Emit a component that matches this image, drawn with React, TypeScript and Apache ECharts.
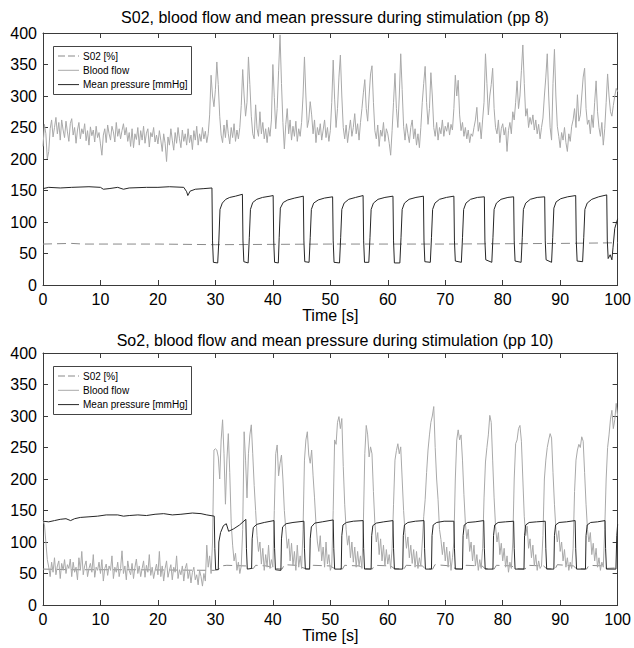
import React, { useEffect, useRef } from "react";
import * as echarts from "echarts";

const STEP = 0.25; // seconds between blood-flow samples

const TITLES = [
  "S02, blood flow and mean pressure during stimulation (pp 8)",
  "So2, blood flow and mean pressure during stimulation (pp 10)",
];
const SERIES_NAMES = ["S02 [%]", "Blood flow", "Mean pressure [mmHg]"];

// ---------- Panel 1 (pp 8) ----------
const TOP_FLOW = [
  220,255,240,200,212,248,262,235,250,266,240,258,230,262,246,234,260,243,228,256,
  264,238,250,225,246,258,232,248,240,256,229,245,222,251,237,246,227,252,234,242,
  224,206,238,248,226,254,240,230,252,243,227,258,236,248,232,245,256,238,250,228,
  242,220,248,218,240,231,250,222,245,230,252,225,241,248,219,242,235,250,227,238,
  224,245,230,212,240,225,196,235,222,248,230,214,242,225,250,232,218,246,228,240,
  222,248,226,238,215,245,230,252,222,240,228,250,232,244,226,240,270,333,300,283,
  310,354,318,268,238,226,254,234,262,240,224,250,234,256,228,246,232,250,285,342,
  300,268,290,362,318,268,240,232,286,248,236,275,240,258,232,248,226,250,236,262,
  350,298,248,280,340,397,320,258,216,255,280,240,262,230,252,236,260,228,248,236,
  258,300,362,300,250,262,291,270,240,262,226,250,238,256,230,246,262,234,250,228,
  245,290,357,295,250,280,330,365,300,250,232,254,226,245,262,236,250,272,240,256,
  230,258,280,305,326,280,260,300,335,348,290,245,232,254,220,246,236,258,228,248,
  240,225,206,245,290,336,280,250,300,367,310,252,230,256,240,226,250,262,232,248,
  222,240,218,250,290,320,347,290,255,280,337,300,250,236,258,230,250,240,262,236,
  252,244,258,238,255,246,280,333,300,325,270,245,258,236,250,232,246,226,240,236,
  250,262,282,244,258,232,262,290,367,320,270,300,318,344,280,250,240,262,226,248,
  256,238,250,212,245,258,240,275,262,290,324,280,300,340,381,320,268,280,250,266,
  255,270,246,262,240,255,232,250,265,300,330,367,300,250,230,320,374,300,252,236,
  218,242,230,250,226,212,240,228,252,262,280,250,302,260,270,300,330,344,280,255,
  262,240,270,250,290,324,275,250,236,258,222,248,290,335,300,275,268,285,300,312,
  307,
];

const TOP_PRESSURE: [number, number][] = [
  [0,153],[1,155],[3,154],[5,155],[8,156],[10,155],[10.5,152],[11.5,153],[13,155],[14,152],[15,154],[18,155],
  [20,155],[22,156],[24.5,155],[25,148],[25.2,142],[25.6,149],[26.5,152],[28,153],[29.4,154],
  [29.5,70],[29.65,36],[30.4,35],[30.6,70],[30.8,120],[31.2,130],[31.8,136],[32.5,139],[33.5,141],[34.7,144],
  [34.8,70],[34.95,37],[35.7,35],[35.9,75],[36.1,120],[36.5,131],[37.2,136],[38.2,139],[39.5,141],[40.05,142],
  [40.15,70],[40.3,36],[40.95,35],[41.1,75],[41.3,122],[41.8,131],[42.6,135],[43.8,138],[45.3,141],
  [45.4,70],[45.55,37],[46.3,36],[46.5,75],[46.7,120],[47.1,130],[47.9,135],[49,138],[50.4,140],
  [50.5,70],[50.65,36],[51.6,35],[51.8,75],[52,120],[52.4,130],[53.2,136],[54.4,139],[55.7,142],
  [55.8,70],[55.95,36],[56.7,36],[56.9,75],[57.1,120],[57.5,130],[58.3,136],[59.5,139],[60.9,141],
  [61.0,70],[61.15,35],[62.1,35],[62.3,75],[62.5,120],[62.9,130],[63.7,136],[64.9,139],[66.2,141],
  [66.3,70],[66.45,37],[67.4,36],[67.6,75],[67.8,120],[68.2,130],[69,136],[70.2,139],[71.5,141],
  [71.6,70],[71.75,38],[72.8,36],[73,75],[73.2,120],[73.6,130],[74.4,136],[75.6,139],[76.8,140],
  [76.9,70],[77.05,40],[78.1,36],[78.3,75],[78.5,120],[78.9,130],[79.7,136],[80.9,139],[81.9,140],
  [82.0,70],[82.15,38],[83.2,36],[83.4,75],[83.6,120],[84,130],[84.8,136],[86,139],[87.3,140],
  [87.4,70],[87.55,40],[88.5,36],[88.7,75],[88.9,122],[89.3,132],[90.1,137],[91.3,140],[92.7,142],
  [92.8,70],[92.95,38],[93.9,37],[94.1,75],[94.3,120],[94.7,130],[95.5,136],[96.7,140],[98.1,143],
  [98.2,70],[98.35,42],[98.7,48],[99.0,40],[99.2,60],[99.5,90],[100,105],
];

const TOP_SO2: [number, number][] = [
  [0,65],[5,66],[7,65],[20,65],[30,64],[50,65],[70,65],[90,66],[100,67],
];

// ---------- Panel 2 (pp 10) ----------
const BOTTOM_FLOW = [
  135,128,100,72,60,45,68,52,75,48,62,70,42,66,55,72,50,64,58,73,
  45,68,52,60,40,75,55,85,48,62,70,45,58,66,52,80,44,60,55,68,
  50,72,38,58,65,47,62,55,78,42,60,52,68,45,58,86,50,62,40,70,
  55,48,66,42,60,73,50,62,45,58,70,44,63,52,80,47,60,42,55,65,
  48,85,45,62,38,58,70,44,55,64,40,60,52,78,42,56,48,62,38,58,
  66,42,55,35,52,60,40,48,32,55,45,30,50,38,95,60,78,50,100,246,
  248,246,235,200,262,294,240,160,230,272,210,130,95,70,82,55,68,50,62,120,
  275,230,170,240,270,286,240,190,150,110,85,100,65,90,55,80,60,95,58,72,
  60,150,240,254,205,225,238,200,150,120,90,105,70,98,62,85,55,95,60,78,
  58,120,230,262,275,238,225,246,205,170,130,100,85,110,70,92,60,100,65,80,
  55,62,150,262,255,290,299,280,296,220,160,120,95,110,75,100,68,92,60,85,
  62,78,58,130,240,285,270,235,251,240,180,130,100,115,80,105,70,95,62,88,
  65,80,58,90,160,230,245,256,240,251,200,150,115,90,108,75,95,66,88,60,
  85,58,75,62,100,140,167,210,246,270,290,300,315,250,200,167,120,104,80,100,
  70,92,60,85,55,75,100,200,262,278,262,270,230,175,130,105,120,85,100,70,
  95,62,80,55,72,58,90,170,227,250,270,301,290,230,170,125,100,115,80,98,
  70,90,60,78,52,68,58,100,200,256,262,280,285,260,200,140,110,125,90,105,
  75,95,62,80,55,70,58,62,110,200,230,250,262,272,265,210,160,120,100,118,
  85,100,70,88,60,75,55,68,58,90,180,230,246,255,250,267,260,210,160,120,
  100,115,80,98,70,90,60,75,55,68,60,120,200,250,270,295,309,280,294,320,
  300,
];

const BOTTOM_PRESSURE: [number, number][] = [
  [0,133],[1,132],[2,134],[3,136],[4,137],[4.8,134],[5.5,137],[6.5,139],[8,140],[9.5,141],[11,143],[13,143],
  [14,141],[15,142],[16.5,143],[18,142],[19.5,144],[21,145],[22.5,143],[24,144],[26,146],[27.5,145],[28.5,143],[29.8,141],
  [29.9,90],[30.05,56],[30.5,56],[30.6,100],[30.9,115],[31.4,126],[31.9,129],[32.3,117],[33.2,121],[34.2,127],[35.3,136],
  [35.4,90],[35.55,57],[36.3,58],[36.4,105],[36.6,123],[37.2,128],[38.5,131],[40.2,134],
  [40.3,90],[40.45,56],[41.4,55],[41.5,105],[41.7,124],[42.3,129],[43.5,131],[45.4,133],
  [45.5,90],[45.65,57],[46.4,57],[46.5,105],[46.7,124],[47.3,130],[48.6,132],[50.5,135],
  [50.6,90],[50.75,57],[51.9,57],[52.0,110],[52.2,127],[52.8,131],[54,133],[55.7,134],
  [55.8,90],[55.95,57],[57.1,57],[57.2,110],[57.4,126],[58,130],[59.3,132],[60.9,134],
  [61.0,90],[61.15,57],[62.6,57],[62.7,110],[62.9,127],[63.5,131],[64.8,133],[66.3,134],
  [66.4,90],[66.55,57],[67.6,57],[67.7,110],[67.9,127],[68.5,131],[69.8,133],[71.5,133],
  [71.6,90],[71.75,57],[73.0,57],[73.1,110],[73.3,127],[73.9,131],[75.2,132],[76.7,134],
  [76.8,90],[76.95,57],[78.3,57],[78.4,110],[78.6,127],[79.2,131],[80.5,132],[81.9,133],
  [82.0,90],[82.15,57],[83.7,57],[83.8,110],[84,127],[84.6,131],[85.9,132],[87.4,133],
  [87.5,90],[87.65,57],[88.9,57],[89.0,110],[89.2,127],[89.8,131],[91.1,132],[92.6,134],
  [92.7,90],[92.85,57],[94.4,57],[94.5,110],[94.7,127],[95.3,131],[96.5,132],[97.8,134],
  [97.9,90],[98.05,57],[99.7,57],[99.85,110],[100,128],
];

const BOTTOM_SO2: [number, number][] = [
  [0,57],[5,56],[15,56],[29.8,55],[30.6,57],[31,62],[32,63],[35.3,62],[35.8,58],[36.6,58],[37,63],[39,62],
  [40.4,58],[41.6,57],[42,64],[44,63],[45.6,58],[46.6,57],[47,63],[50,62],[50.7,58],[52.1,57],[52.5,63],[55,62],
  [55.9,58],[57.3,57],[57.7,63],[60.5,62],[61.1,58],[62.8,57],[63.2,63],[66,62],[66.5,58],[67.8,57],[68.2,64],
  [71,62],[71.7,58],[73.2,57],[73.6,63],[76.4,62],[76.9,58],[78.5,57],[78.9,63],[81.6,62],[82.1,58],[83.9,57],
  [84.3,63],[87.1,62],[87.6,58],[89.1,57],[89.5,64],[92.3,62],[92.8,58],[94.6,57],[95,63],[97.5,62],[98,58],[100,59],
];

// ---------- styling ----------
const FONT = "'Liberation Sans', Arial, Helvetica, sans-serif";
const AXIS_COLOR = "#3a3a3a";
const FLOW_COLOR = "#a9a9a9";
const SO2_COLOR = "#8a8a8a";
const PRESSURE_COLOR = "#262626";
const SERIES_COLORS = [SO2_COLOR, FLOW_COLOR, PRESSURE_COLOR];
const SERIES_DASH: (number[] | null)[] = [[7, 3], null, null];

const GRID_TOPS = [33, 353];
const GRID_HEIGHT = 252;
const TITLE_Y = [9, 332];

function toPairs(values: number[]): [number, number][] {
  return values.map((v, i) => [i * STEP, v]);
}

function legendGraphic(top: number) {
  const x0 = 53.5;
  const y0 = top + 13.5;
  const children: any[] = [
    {
      type: "rect",
      shape: { x: x0, y: y0, width: 138, height: 48 },
      style: { fill: "#fff", stroke: "#444", lineWidth: 1 },
    },
  ];
  SERIES_NAMES.forEach((name, i) => {
    const cy = top + 23 + i * 14.3;
    children.push({
      type: "line",
      shape: { x1: 58, y1: cy, x2: 79, y2: cy },
      style: {
        stroke: SERIES_COLORS[i], lineWidth: 1,
        lineDash: SERIES_DASH[i] || undefined,
      },
    });
    children.push({
      type: "text", x: 83, y: cy,
      style: { text: name, fill: "#000", font: `10px ${FONT}`, align: "left", verticalAlign: "middle" },
    });
  });
  return { type: "group", children };
}

function buildOption() {
  const grids = GRID_TOPS.map((top) => ({ left: 43, right: 16, top, height: GRID_HEIGHT }));
  const xAxis: any[] = [];
  const yAxis: any[] = [];
  GRID_TOPS.forEach((_, g) => {
    const line = { show: true, onZero: false, lineStyle: { color: AXIS_COLOR, width: 1 } };
    const tick = { show: true, inside: true, length: 5, lineStyle: { color: AXIS_COLOR, width: 1 } };
    xAxis.push({
      type: "value", gridIndex: g, min: 0, max: 100, interval: 10, position: "bottom",
      axisLine: line, axisTick: tick, splitLine: { show: false },
      axisLabel: { color: "#000", fontSize: 16, fontFamily: FONT, margin: 6 },
      name: "Time [s]", nameLocation: "middle", nameGap: 20,
      nameTextStyle: { color: "#000", fontSize: 16, fontFamily: FONT },
    });
    xAxis.push({
      type: "value", gridIndex: g, min: 0, max: 100, interval: 10, position: "top",
      axisLine: line, axisTick: tick, splitLine: { show: false }, axisLabel: { show: false },
    });
    yAxis.push({
      type: "value", gridIndex: g, min: 0, max: 400, interval: 50, position: "left",
      axisLine: line, axisTick: tick, splitLine: { show: false },
      axisLabel: { color: "#000", fontSize: 16, fontFamily: FONT, margin: 6 },
    });
    yAxis.push({
      type: "value", gridIndex: g, min: 0, max: 400, interval: 50, position: "right",
      axisLine: line, axisTick: tick, splitLine: { show: false }, axisLabel: { show: false },
    });
  });

  const panels = [
    { so2: TOP_SO2, flow: toPairs(TOP_FLOW), pressure: TOP_PRESSURE },
    { so2: BOTTOM_SO2, flow: toPairs(BOTTOM_FLOW), pressure: BOTTOM_PRESSURE },
  ];
  const series: any[] = [];
  panels.forEach((p, g) => {
    const base = {
      type: "line", xAxisIndex: g * 2, yAxisIndex: g * 2, symbol: "none", showSymbol: false,
      animation: false, silent: true,
    };
    series.push({ ...base, name: SERIES_NAMES[0], data: p.so2,
      lineStyle: { color: SO2_COLOR, width: 1, type: [9, 5] }, itemStyle: { color: SO2_COLOR } });
    series.push({ ...base, name: SERIES_NAMES[1], data: p.flow,
      lineStyle: { color: FLOW_COLOR, width: 1 }, itemStyle: { color: FLOW_COLOR } });
    series.push({ ...base, name: SERIES_NAMES[2], data: p.pressure,
      lineStyle: { color: PRESSURE_COLOR, width: 1 }, itemStyle: { color: PRESSURE_COLOR } });
  });

  const graphic: any[] = TITLES.map((text, i) => ({
    type: "text", x: 335, y: TITLE_Y[i],
    style: { text, fill: "#000", font: `16px ${FONT}`, align: "center", verticalAlign: "top" },
  }));
  GRID_TOPS.forEach((top) => graphic.push(legendGraphic(top)));

  return {
    animation: false,
    backgroundColor: "#fff",
    grid: grids,
    xAxis, yAxis, series, graphic,
  };
}

export default function App() {
  const ref = useRef<HTMLDivElement>(null);
  useEffect(() => {
    document.body.style.margin = "0";
    const chart = echarts.init(ref.current!, null, { renderer: "svg" });
    chart.setOption(buildOption() as any);
    return () => chart.dispose();
  }, []);
  return <div ref={ref} style={{ width: 634, height: 648 }} />;
}
